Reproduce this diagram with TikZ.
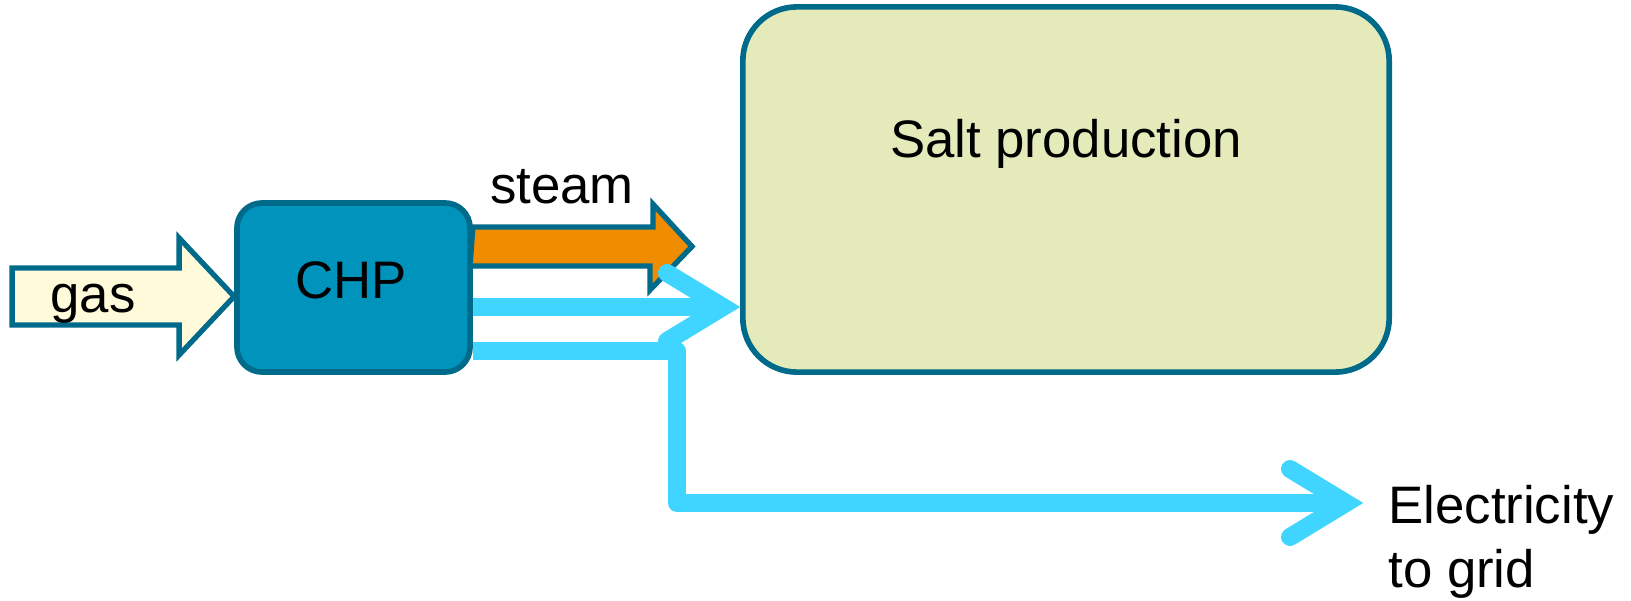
\documentclass[tikz,border=0pt]{standalone}
\usepackage{fontspec}
\setmainfont{Liberation Sans}
\usetikzlibrary{calc}
\definecolor{chpteal}{RGB}{0,106,138}
\definecolor{chpblue}{RGB}{0,147,188}
\definecolor{gasyellow}{RGB}{255,250,218}
\definecolor{saltgreen}{RGB}{228,234,186}
\definecolor{steamorange}{RGB}{240,140,0}
\definecolor{elecblue}{RGB}{64,213,255}
\tikzset{font=\fontsize{15}{18}\selectfont}
\tikzset{unit/.style={draw=chpteal,line width=1.6pt}}
\tikzset{flow/.style={draw=chpteal,line width=1.5pt,line join=miter}}
\tikzset{elec/.style={draw=elecblue,line width=5.1pt,line join=round}}
\tikzset{elechead/.style={draw=elecblue,line width=5.1pt,line cap=round,line join=miter}}

\begin{document}
\begin{tikzpicture}[x=0.01cm,y=-0.01cm]
  \useasboundingbox (0,0) rectangle (1631,600);
  \node[unit,fill=chpblue,rounded corners=0.25cm,minimum width=2.33cm,minimum height=1.69cm] (chp) at (353.5,287.5) {};
  \node[anchor=base] (chplabel) at (351,298) {CHP};
  \node[unit,fill=saltgreen,rounded corners=0.54cm,minimum width=6.46cm,minimum height=3.65cm] (salt) at (1066,189.5) {};
  \node[anchor=base] (saltlabel) at (1066,157) {Salt production};
  % gas in
  \draw[flow,fill=gasyellow] ($(chp.west)+(0,9)$) -- ++(-55,-58.5) -- ++(0,30) -- ++(-167,0)
    -- ++(0,57) -- ++(167,0) -- ++(0,30) -- cycle;
  \node[anchor=base] (gaslabel) at (93,312) {gas};
  % steam out
  \coordinate (steamtip) at (692,246.5);
  \draw[flow,fill=steamorange] ($(chp.east |- steamtip)+(0,-19.5)$) -- ++(180,0) -- ++(0,-23)
    -- (steamtip) -- ++(-42,43.5) -- ++(0,-24) -- ++(-180,0) -- cycle;
  \node[anchor=base] (steamlabel) at (562,203) {steam};
  % electricity
  \coordinate (midtip) at (723,307);
  \coordinate (gridtip) at (1346,503);
  \draw[elec] (chp.east |- midtip) -- (midtip);
  \draw[elechead] ($(midtip)+(-56,-34)$) -- (midtip) -- ($(midtip)+(-56,34)$);
  \draw[elec] ($(chp.east)+(0,63.5)$) -| (677,503) -- (gridtip);
  \draw[elechead] ($(gridtip)+(-56,-34)$) -- (gridtip) -- ($(gridtip)+(-56,34)$);
  \node[anchor=base west,align=left] (gridlabel) at (1376,587) {Electricity\\to grid};
\end{tikzpicture}
\end{document}
